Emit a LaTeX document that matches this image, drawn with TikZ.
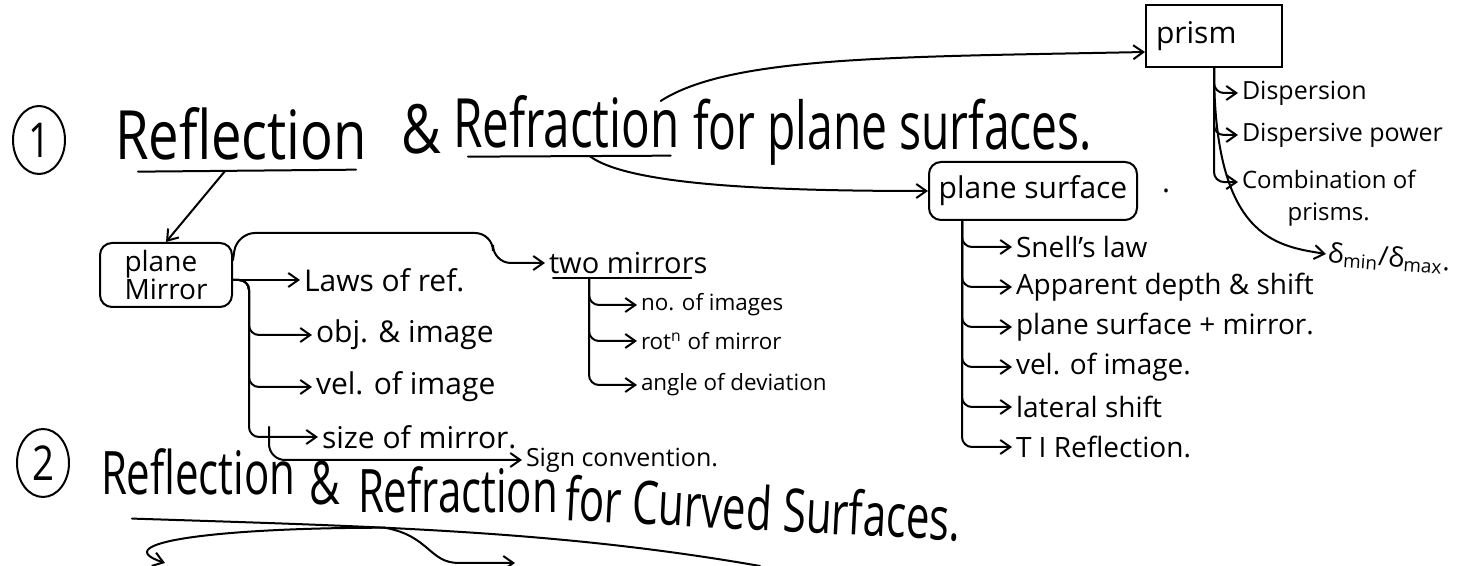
\documentclass[tikz,border=0pt]{standalone}
\usepackage{fontspec}
\setmainfont{Open Sans}
\newfontfamily\titlefont[FakeStretch=0.8]{Open Sans}
\newfontfamily\narrowfont[FakeStretch=0.7]{Open Sans}
\usetikzlibrary{positioning, arrows.meta, shapes.geometric}
\tikzset{
  head/.style={font=\titlefont\fontsize{34}{38}\selectfont, inner sep=0pt, anchor=base west},
  headrest/.style={head, font=\narrowfont\fontsize{33}{36}\selectfont},
  headtwo/.style={head, font=\narrowfont\fontsize{30}{34}\selectfont},
  num/.style={draw, ellipse, inner sep=0pt, minimum width=26pt, minimum height=34pt, font=\titlefont\fontsize{24}{26}\selectfont},
  item/.style={font=\fontsize{15}{17}\selectfont, inner sep=1.5pt, anchor=west},
  subitem/.style={item, font=\fontsize{11.2}{13}\selectfont},
  prismitem/.style={item, font=\fontsize{12.5}{16}\selectfont},
  box/.style={draw, rounded corners=6pt, inner sep=3pt, font=\fontsize{15}{17}\selectfont},
  branch/.style={->, rounded corners=5pt},
  >={Straight Barb[length=5pt,width=7pt]},
}

\begin{document}
\begin{tikzpicture}[x=0.5pt, y=-0.5pt, line width=1pt, line cap=round]
    \useasboundingbox (0,0) rectangle (1464,566);

    % heading 1
    \node[num] (n1) at (39,140) {1};
    \node[head] (refl1) at (114,160) {Reflection};
    \node[head] (amp1) at (400,154) {\&};
    \node[head, font=\narrowfont\fontsize{34}{38}\selectfont] (refr1) at (452,148) {Refraction};
    \node[headrest] (rest1) at (692,150) {for plane surfaces.};
    \draw ([xshift=12pt,yshift=-5pt]refl1.south west) -- coordinate[pos=0.4] (ul1) ([xshift=-6pt,yshift=-4pt]refl1.south east);
    \draw ([xshift=8pt,yshift=-3.5pt]refr1.south west) -- coordinate[pos=0.6] (ul2) ([xshift=-5pt,yshift=-3pt]refr1.south east);

    % plane mirror
    \node[box, minimum width=66pt, minimum height=32pt, align=left, font=\fontsize{14}{14}\selectfont] (pm) at (166,275) {plane\\Mirror};
    \draw[->] (ul1) -- (pm.north);
    \node[item] (laws) at (300,280) {Laws of ref.};
    \node[item] (obj) at (312,335) {obj. \& image};
    \node[item, below=26pt of obj.west, anchor=west] (vel) {vel. of image};
    \node[item, below=25pt of vel.west, anchor=west, xshift=3pt] (size) {size of mirror.};
    \node[item, font=\fontsize{12.5}{14}\selectfont] (sign) at (522,460) {Sign convention.};
    \coordinate (pmb) at ([xshift=8pt]pm.east |- laws.west);
    \draw[->] (pm.east |- laws.west) -- (laws.west);
    \foreach \t in {obj, vel, size}
      \draw[branch] (pm.east |- laws.west) -- (pmb) |- (\t.west);
    \draw[branch, rounded corners=8pt] ([xshift=10pt,yshift=5pt]pmb |- size.west) |- (sign.west);

    % two mirrors
    \node[item, font=\fontsize{14.5}{16}\selectfont] (tm) at (545,263) {two mirrors};
    \draw ([xshift=4pt]tm.south west) -- ([xshift=-10pt]tm.south east);
    \coordinate (tmb) at ([xshift=22pt]tm.south west);
    \draw[branch, rounded corners=9pt] ([yshift=-9pt]pm.north east) -- ++(4,-27) -| ([xshift=-26pt]tm.west) -- (tm.west);
    \node[subitem] (nimg) at (637,305) {no. of images};
    \node[subitem, below=18pt of nimg.west, anchor=west] (rotn) {rot\textsuperscript{n} of mirror};
    \node[subitem, below=22pt of rotn.west, anchor=west] (angle) {angle of deviation};
    \foreach \t in {nimg, rotn, angle}
      \draw[branch] (tmb) |- (\t.west);

    % prism
    \node[box, sharp corners, minimum width=68pt, minimum height=31pt, text width=58pt] (prism) at (1214,36) {prism};
    \draw[->] ([xshift=-10pt,yshift=-3pt]refr1.north east) .. controls +(70,-45) and +(-250,5) .. ([yshift=-8pt]prism.west);
    \node[prismitem] (disp) at (1238,93) {Dispersion};
    \node[prismitem, below=21pt of disp.west, anchor=west] (dpow) {Dispersive power};
    \node[prismitem, align=center, anchor=north west, font=\fontsize{12}{16}\selectfont] (comb) at (1238,166) {Combination of\\prisms.};
    \node[item, font=\fontsize{13.5}{16}\selectfont, rotate=-4, inner sep=0.5pt] (dmin) at (1326,254) {δ\textsubscript{min}/δ\textsubscript{max}.};
    \foreach \t in {disp, dpow}
      \draw[branch] (prism.south) |- (\t.west);
    \draw[branch] (prism.south) |- ([yshift=8pt]comb.west);
    \draw[->] (prism.south) .. controls +(0,170) and +(-50,-8) .. (dmin.west);

    % plane surface
    \node[box, minimum width=104pt, minimum height=29pt] (ps) at (1033,191) {plane surface};
    \node[item] (psdot) at ([xshift=10pt]ps.east) {.};
    \draw[->] (ul2) .. controls +(40,30) and +(-150,0) .. (ps.west);
    \coordinate (psb) at ([xshift=17pt]ps.south west);
    \node[item, font=\fontsize{14}{16}\selectfont] (snell) at (1012,247) {Snell's law};
    \node[item, font=\fontsize{14}{16}\selectfont, below=20pt of snell.west, anchor=west] (depth) {Apparent depth \& shift};
    \node[item, font=\fontsize{14}{16}\selectfont, below=20pt of depth.west, anchor=west] (psm) {plane surface + mirror.};
    \node[item, font=\fontsize{14}{16}\selectfont, below=20pt of psm.west, anchor=west] (pvel) {vel. of image.};
    \node[item, font=\fontsize{14}{16}\selectfont, below=20pt of pvel.west, anchor=west] (lat) {lateral shift};
    \node[item, font=\fontsize{14}{16}\selectfont, below=20pt of lat.west, anchor=west] (tir) {T I Reflection.};
    \foreach \t in {snell, depth, psm, pvel, lat, tir}
      \draw[branch] (psb) |- (\t.west);

    % heading 2
    \node[num] (n2) at (43,463) {2};
    \node[headtwo] (refl2) at (100,495) {Reflection};
    \node[headtwo] (amp2) at (308,505) {\&};
    \node[headtwo] (refr2) at (357,513) {Refraction};
    \node[headtwo, rotate=-3] (rest2) at (563,520) {for Curved Surfaces.};
    \coordinate (ulend) at (760,566);
    \coordinate (cend) at (165,563);
    \coordinate (pend) at (515,563);
    \draw ([xshift=16pt,yshift=-11pt]refl2.south west) .. controls +(250,8) and +(-200,-35) .. coordinate[pos=0.37] (ul3) (ulend);
    \draw[->] (ul3) .. controls +(-170,0) and +(-60,-20) .. (cend);
    \draw[->] (ul3) .. controls +(45,8) and +(-30,0) .. ([xshift=-28pt]pend) -- (pend);
\end{tikzpicture}
\end{document}
